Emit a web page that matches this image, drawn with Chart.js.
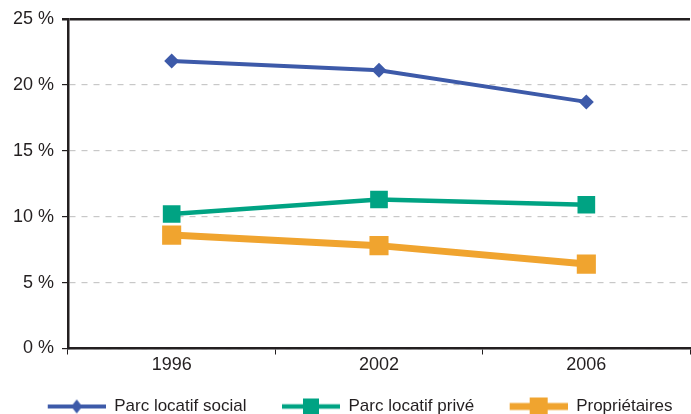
<!DOCTYPE html>
<html>
<head>
<meta charset="utf-8">
<script src="https://cdn.jsdelivr.net/npm/chart.js@4/dist/chart.umd.min.js"></script>
<style>
  html, body { margin: 0; padding: 0; background: #fff; }
  #wrap { width: 691px; height: 414px; position: relative; }
</style>
</head>
<body>
<div id="wrap"><canvas id="chart"></canvas></div>
<script>
const years = ["1996", "2002", "2006"];
const parcSocial = [21.8, 21.1, 18.7];
const parcPrive = [10.2, 11.3, 10.9];
const proprietaires = [8.6, 7.8, 6.4];
const yTicks = [0, 5, 10, 15, 20, 25];

const FONT = "'Liberation Sans Narrow', 'Liberation Sans', sans-serif";
const TEXT = "#231f20";
const ICON_GAP = 18; // marge transparente à gauche de chaque symbole de légende

// petite image ligne + marqueur pour la légende
function legendIcon(color, lineW, shape, size) {
  const c = document.createElement("canvas");
  c.width = 58 + ICON_GAP; c.height = 22;
  const g = c.getContext("2d");
  const x0 = ICON_GAP, mid = ICON_GAP + 29;
  g.strokeStyle = color; g.fillStyle = color; g.lineWidth = lineW;
  g.beginPath(); g.moveTo(x0, 11); g.lineTo(x0 + 58, 11); g.stroke();
  g.beginPath();
  if (shape === "diamond") {
    g.moveTo(mid, 11 - size); g.lineTo(mid + size * 0.8, 11); g.lineTo(mid, 11 + size); g.lineTo(mid - size * 0.8, 11);
    g.closePath(); g.fill();
  } else {
    g.fillRect(mid - size, 11 - size, size * 2, size * 2);
  }
  return c;
}

const series = [
  { label: "Parc locatif social", data: parcSocial, color: "#3d5aa9", width: 4, style: "rectRot", radius: 7.5,
    icon: legendIcon("#3d5aa9", 4, "diamond", 7) },
  { label: "Parc locatif privé", data: parcPrive, color: "#00a383", width: 4.5, style: "rect", radius: 12.5,
    icon: legendIcon("#00a383", 4.5, "square", 8) },
  { label: "Propriétaires", data: proprietaires, color: "#f0a42f", width: 7, style: "rect", radius: 13.5,
    icon: legendIcon("#f0a42f", 7, "square", 9) }
];

new Chart(document.getElementById("chart"), {
  type: "line",
  data: {
    labels: years,
    datasets: series.map(s => ({
      label: s.label,
      data: s.data,
      borderColor: s.color,
      backgroundColor: s.color,
      borderWidth: s.width,
      pointStyle: s.style,
      pointRadius: s.radius,
      pointHoverRadius: s.radius,
      pointBorderWidth: 0,
      tension: 0,
      fill: false
    }))
  },
  options: {
    responsive: true,
    maintainAspectRatio: false,
    animation: false,
    layout: { autoPadding: false, padding: { top: 18, right: 1, left: 0, bottom: -11 } },
    plugins: {
      tooltip: { enabled: false },
      legend: {
        position: "bottom",
        align: "end",
        labels: {
          usePointStyle: true,
          pointStyleWidth: 58 + ICON_GAP,
          padding: 17.5,
          color: TEXT,
          font: { family: FONT, size: 17 },
          generateLabels: chart => series.map((s, i) => ({
            text: s.label,
            pointStyle: s.icon,
            fillStyle: s.color,
            strokeStyle: s.color,
            lineWidth: 0,
            hidden: false,
            datasetIndex: i,
            fontColor: TEXT
          }))
        }
      }
    },
    scales: {
      x: {
        offset: true,
        grid: {
          offset: true,
          drawOnChartArea: true,
          color: ctx => ctx.index === 3 ? "#cccccc" : "rgba(0,0,0,0)",
          tickColor: "#231f20",
          tickLength: 6,
          lineWidth: 1
        },
        border: { color: "#231f20", width: 2.5 },
        ticks: { color: TEXT, font: { family: FONT, size: 18 }, padding: 0 },
        afterFit: scale => { scale.height = 32; }
      },
      y: {
        min: 0,
        max: 25,
        afterBuildTicks: scale => { scale.ticks = yTicks.map(v => ({ value: v })); },
        grid: {
          color: ctx => ctx.tick && ctx.tick.value === 25 ? "#231f20" : "#c8c8c8",
          lineWidth: ctx => ctx.tick && ctx.tick.value === 25 ? 2.5 : 1.2,
          tickColor: "#231f20",
          tickLength: 6
        },
        border: {
          color: "#231f20",
          width: 2.5,
          dash: ctx => ctx.tick && ctx.tick.value === 25 ? [] : [6, 6]
        },
        ticks: {
          color: TEXT,
          font: { family: FONT, size: 18 },
          padding: 8,
          callback: v => v + " %"
        },
        afterFit: scale => { scale.width = 68; }
      }
    }
  }
});
</script>
</body>
</html>
